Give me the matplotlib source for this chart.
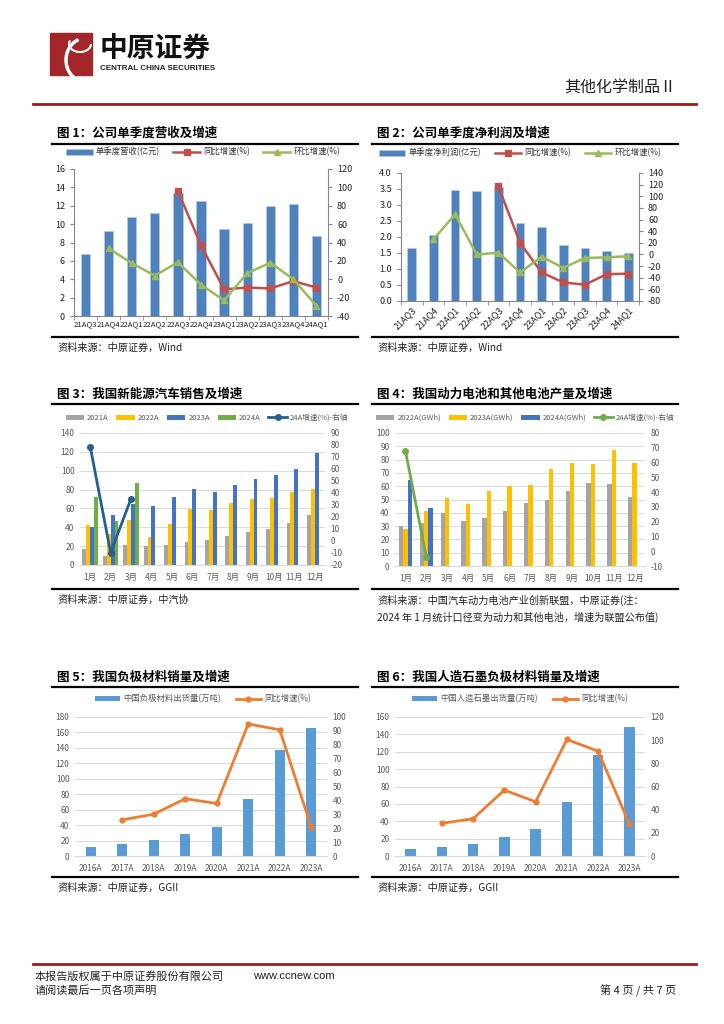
import matplotlib
matplotlib.use('Agg')
import matplotlib.pyplot as plt
import numpy as np
from matplotlib.patches import Rectangle, Arc

plt.rcParams['font.family'] = ['Noto Sans CJK SC', 'DejaVu Sans']
plt.rcParams['axes.unicode_minus'] = False

W, H = 724, 1024
nan = np.nan

# ---- data ----
# 图1 / 图2: quarterly revenue and net profit
q_labels = ['21AQ3', '21AQ4', '22AQ1', '22AQ2', '22AQ3', '22AQ4',
            '23AQ1', '23AQ2', '23AQ3', '23AQ4', '24AQ1']
rev = [6.8, 9.2, 10.8, 11.2, 13.4, 12.5, 9.5, 10.1, 12.0, 12.2, 8.7]
rev_yoy = [nan, nan, nan, nan, 96, 37, -11, -9, -10, -2, -9]
rev_qoq = [nan, 33.5, 17.5, 4, 18.5, -6, -23, 6.5, 18, 0, -29]

profit = [1.66, 2.06, 3.47, 3.43, 3.55, 2.43, 2.31, 1.75, 1.66, 1.56, 1.51]
profit_yoy = [nan, nan, nan, nan, 117, 20, -31, -48, -52, -34, -33]
profit_qoq = [nan, 26, 69, 0, 3, -31, -4, -23, -6, -5, -3]

# 图3: NEV sales by month (万辆)
months = ['1月', '2月', '3月', '4月', '5月', '6月',
          '7月', '8月', '9月', '10月', '11月', '12月']
nev_2021 = [17.3, 10.0, 21.6, 19.8, 21.2, 24.7, 26.1, 31.0, 35.3, 37.8, 44.5, 52.6]
nev_2022 = [42.8, 33.0, 48.0, 29.7, 43.8, 59.4, 58.7, 65.7, 70.3, 70.7, 77.7, 80.9]
nev_2023 = [39.9, 52.6, 64.3, 63.0, 71.7, 80.9, 77.4, 84.5, 90.8, 95.0, 102.0, 119.0]
nev_2024 = [72.4, 47.0, 87.3]
nev_growth = [78.6, -9.7, 35.3]

# 图4: battery output (GWh)
bat_2022 = [30.0, 32.0, 40.0, 34.0, 36.0, 41.0, 47.0, 50.0, 56.5, 62.6, 61.8, 52.0]
bat_2023 = [27.6, 41.2, 51.0, 46.7, 56.5, 60.0, 61.0, 72.9, 77.4, 76.6, 87.2, 77.4]
bat_2024 = [64.8, 43.4]
bat_growth = [68.0, -3.9]

# 图5 / 图6: anode materials
years = ['2016A', '2017A', '2018A', '2019A', '2020A', '2021A', '2022A', '2023A']
anode = [12.1, 16.0, 20.4, 28.2, 37.3, 73.3, 137.5, 166.0]
anode_yoy = [nan, 26.0, 30.1, 41.2, 37.8, 95.0, 90.8, 20.7]
graphite = [8.4, 10.7, 13.8, 21.8, 31.0, 61.7, 116.0, 148.0]
graphite_yoy = [nan, 28.2, 32.2, 56.9, 46.8, 100.6, 90.5, 27.6]

fig = plt.figure(figsize=(W / 100, H / 100), dpi=100)

# page layer in pixel coordinates
bg = fig.add_axes([0, 0, 1, 1])
bg.set_xlim(0, W)
bg.set_ylim(H, 0)
bg.axis('off')


def px_box(x0, y0, x1, y1):
    return [x0 / W, 1 - y1 / H, (x1 - x0) / W, (y1 - y0) / H]


def fig_xy(x, y):
    return (x / W, 1 - y / H)


# header
bg.add_patch(Rectangle((50, 33), 42, 42, color='#A3262A'))
bg.add_patch(Arc((86, 60), 40, 44, theta1=110, theta2=250, color='white', lw=2.5))
bg.add_patch(Arc((80, 44), 22, 16, theta1=0, theta2=200, color='white', lw=1.5))
bg.text(100, 49, '中原证券', fontsize=20, fontweight='heavy', va='center', color='#111111')
bg.text(100, 69, 'CENTRAL CHINA SECURITIES', fontsize=5.8, fontweight='bold',
        family='Liberation Sans', va='center', color='#222222')
bg.text(676, 88, '其他化学制品Ⅱ', fontsize=11.5, ha='right', va='center', color='#222222')
bg.plot([33, 696], [104, 104], color='#9E1B1E', lw=2)

# footer
bg.plot([33, 696], [964, 964], color='#9E1B1E', lw=2)
bg.text(35, 976, '本报告版权属于中原证券股份有限公司', fontsize=8, va='center', color='#222222')
bg.text(253, 976, 'www.ccnew.com', fontsize=8, family='Liberation Sans', va='center', color='#222222')
bg.text(35, 991, '请阅读最后一页各项声明', fontsize=8, va='center', color='#222222')
bg.text(676, 991, '第 4 页 / 共 7 页', fontsize=8, ha='right', va='center', color='#222222')


def panel_frame(col, title, title_y, top_line, bottom_line, sources):
    x0, x1 = (52, 358) if col == 0 else (372, 678)
    bg.text(x0 + 5, title_y, title, fontsize=9, fontweight='heavy', va='center', color='black')
    bg.plot([x0, x1], [top_line, top_line], color='black', lw=1.6)
    bg.plot([x0, x1], [bottom_line, bottom_line], color='black', lw=1.6)
    for i, s in enumerate(sources):
        bg.text(x0 + 5, bottom_line + 11 + i * 17, s, fontsize=7.3, va='center', color='#222222')


panel_frame(0, '图 1：公司单季度营收及增速', 133, 144, 337, ['资料来源：中原证券，Wind'])
panel_frame(1, '图 2：公司单季度净利润及增速', 133, 144, 337, ['资料来源：中原证券，Wind'])
panel_frame(0, '图 3：我国新能源汽车销售及增速', 394, 404, 589, ['资料来源：中原证券，中汽协'])
panel_frame(1, '图 4：我国动力电池和其他电池产量及增速', 394, 404, 589,
            ['资料来源：中国汽车动力电池产业创新联盟，中原证券(注：',
             '2024 年 1 月统计口径变为动力和其他电池，增速为联盟公布值)'])
panel_frame(0, '图 5：我国负极材料销量及增速', 677, 687, 877, ['资料来源：中原证券，GGII'])
panel_frame(1, '图 6：我国人造石墨负极材料销量及增速', 677, 687, 877, ['资料来源：中原证券，GGII'])


def quarter_chart(box, vals, yoy, qoq, ylim, yticks, y2lim, y2ticks, fmt, bar_label, leg_xy, rotate):
    ax = fig.add_axes(px_box(*box))
    ax2 = ax.twinx()
    x = np.arange(len(q_labels))
    bars = ax.bar(x, vals, 0.4, color='#4F81BD', edgecolor='#B9CDE5', linewidth=0.4)
    l1, = ax2.plot(x, yoy, color='#C0504D', lw=1.8, marker='s', ms=3.8)
    l2, = ax2.plot(x, qoq, color='#9BBB59', lw=1.8, marker='^', ms=4.5)
    ax.set_xlim(-0.5, len(q_labels) - 0.5)
    ax.set_ylim(*ylim)
    ax.set_yticks(yticks)
    ax.set_yticklabels([fmt.format(v) for v in yticks])
    ax2.set_ylim(*y2lim)
    ax2.set_yticks(y2ticks)
    ax.set_xticks(x)
    if rotate:
        ax.set_xticklabels(q_labels, rotation=45, ha='right', rotation_mode='anchor')
    else:
        ax.set_xticklabels(q_labels, fontsize=5.6)
    ax.set_xticks(np.arange(len(q_labels) + 1) - 0.5, minor=True)
    for a in (ax, ax2):
        a.set_facecolor('none')
        for s in a.spines.values():
            s.set_visible(False)
            s.set_color('#868686')
            s.set_linewidth(0.8)
        a.tick_params(labelsize=6.5, colors='#868686', labelcolor='#222222', length=3, direction='out')
    ax.spines['left'].set_visible(True)
    ax.spines['bottom'].set_visible(True)
    ax2.spines['right'].set_visible(True)
    ax.tick_params(axis='x', which='major', length=0, pad=3)
    if not rotate:
        ax.tick_params(axis='x', which='major', labelsize=5.6)
    ax.tick_params(axis='x', which='minor', length=3, color='#868686')
    fig.legend([bars, l1, l2], [bar_label, '同比增速(%)', '环比增速(%)'],
               loc='center', bbox_to_anchor=fig_xy(*leg_xy), ncol=3, frameon=False,
               fontsize=6, handlelength=3.2, columnspacing=1.6, handletextpad=0.4,
               labelcolor='#333333')


quarter_chart((74, 169, 328, 316), rev, rev_yoy, rev_qoq, (0, 16), range(0, 17, 2),
              (-40, 120), range(-40, 121, 20), '{:d}', '单季度营收(亿元)', (203, 152), False)
quarter_chart((401, 173, 639, 301), profit, profit_yoy, profit_qoq, (0, 4.0),
              np.arange(0, 4.01, 0.5), (-80, 140), range(-80, 141, 20), '{:.1f}',
              '单季度净利润(亿元)', (520, 153), True)


def modern_axes(box, cats, ylim, yticks, y2lim, y2ticks):
    ax = fig.add_axes(px_box(*box))
    ax2 = ax.twinx()
    ax.set_xlim(-0.5, len(cats) - 0.5)
    ax.set_xticks(np.arange(len(cats)))
    ax.set_xticklabels(cats)
    ax.set_ylim(*ylim)
    ax.set_yticks(yticks)
    ax2.set_ylim(*y2lim)
    ax2.set_yticks(y2ticks)
    ax.grid(axis='y', color='#D9D9D9', lw=0.7)
    ax.set_axisbelow(True)
    for a in (ax, ax2):
        a.set_facecolor('none')
        for s in a.spines.values():
            s.set_visible(False)
        a.tick_params(labelsize=6, labelcolor='#595959', length=0, pad=4)
    ax.spines['bottom'].set_visible(True)
    ax.spines['bottom'].set_color('#D9D9D9')
    ax.tick_params(axis='x', pad=6)
    return ax, ax2


def modern_legend(handles, labels, xy, ncol, fs=6, hl=3.0, cs=1.8):
    fig.legend(handles, labels, loc='center', bbox_to_anchor=fig_xy(*xy), ncol=ncol,
               frameon=False, fontsize=fs, handlelength=hl, handleheight=0.6,
               columnspacing=cs, handletextpad=0.4, labelcolor='#595959')


# 图3
ax, ax2 = modern_axes((80, 433, 325, 565), months, (0, 140), range(0, 141, 20),
                      (-20, 90), range(-20, 91, 10))
x = np.arange(12)
w = 0.19
b1 = ax.bar(x - 1.5 * w, nev_2021, w, color='#A5A5A5')
b2 = ax.bar(x - 0.5 * w, nev_2022, w, color='#FFC000')
b3 = ax.bar(x + 0.5 * w, nev_2023, w, color='#4472C4')
b4 = ax.bar(x[:3] + 1.5 * w, nev_2024, w, color='#70AD47')
l, = ax2.plot(x[:3], nev_growth, color='#255E91', lw=2, marker='o', ms=4)
modern_legend([b1, b2, b3, b4, l], ['2021A', '2022A', '2023A', '2024A', '24A增速(%)-右轴'],
              (207, 418), 5, fs=5.5, hl=2.4, cs=1.0)

# 图4
ax, ax2 = modern_axes((395, 433, 645, 566), months, (0, 100), range(0, 101, 10),
                      (-10, 80), range(-10, 81, 10))
w = 0.21
b1 = ax.bar(x - w, bat_2022, w, color='#A5A5A5')
b2 = ax.bar(x, bat_2023, w, color='#FFC000')
b3 = ax.bar(x[:2] + w, bat_2024, w, color='#4472C4')
l, = ax2.plot(x[:2], bat_growth, color='#70AD47', lw=2, marker='o', ms=4)
modern_legend([b1, b2, b3, l], ['2022A(GWh)', '2023A(GWh)', '2024A(GWh)', '24A增速(%)-右轴'],
              (525, 418), 4, fs=5.5, hl=2.4, cs=1.0)

# 图5
x = np.arange(len(years))
ax, ax2 = modern_axes((75, 717, 327, 856), years, (0, 180), range(0, 181, 20),
                      (0, 100), range(0, 101, 10))
b = ax.bar(x, anode, 0.32, color='#5B9BD5')
l, = ax2.plot(x, anode_yoy, color='#ED7D31', lw=2, marker='o', ms=3.5)
modern_legend([b, l], ['中国负极材料出货量(万吨)', '同比增速(%)'], (203, 699), 2)

# 图6
ax, ax2 = modern_axes((395, 717, 645, 856), years, (0, 160), range(0, 161, 20),
                      (0, 120), range(0, 121, 20))
b = ax.bar(x, graphite, 0.33, color='#5B9BD5')
l, = ax2.plot(x, graphite_yoy, color='#ED7D31', lw=2, marker='o', ms=3.5)
modern_legend([b, l], ['中国人造石墨出货量(万吨)', '同比增速(%)'], (520, 699), 2)

fig.savefig('out.png', dpi=100)
